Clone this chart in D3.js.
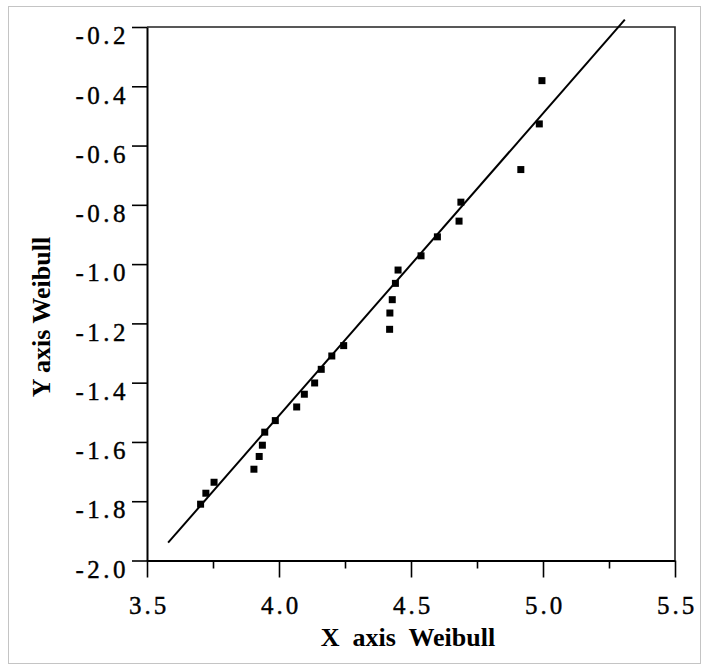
<!DOCTYPE html>
<html>
<head>
<meta charset="utf-8">
<script src="https://cdn.jsdelivr.net/npm/d3@7"></script>
<style>
  body { margin: 0; background: #fff; }
</style>
</head>
<body>
<svg></svg>
<script>
const xValues = [3.703, 3.723, 3.754, 3.905, 3.925, 3.937, 3.946, 3.986, 4.067, 4.096, 4.135,
                 4.16, 4.20, 4.245, 4.419, 4.420, 4.429, 4.441, 4.451, 4.538, 4.600,
                 4.682, 4.689, 4.916, 4.986, 4.996]
const yValues = [-1.810, -1.773, -1.736, -1.692, -1.649, -1.611, -1.567, -1.528, -1.482, -1.439, -1.401,
                 -1.355, -1.31, -1.275, -1.220, -1.165, -1.120, -1.065, -1.020, -0.972, -0.908,
                 -0.855, -0.791, -0.681, -0.527, -0.381]

// fitted line end points
const fitX = [3.58, 5.31]
const fitY = [-1.94, -0.175]

const xTicks = [3.5, 4.0, 4.5, 5.0, 5.5]
const xMinorTicks = [3.75, 4.25, 4.75, 5.25]
const yTicks = [-0.2, -0.4, -0.6, -0.8, -1.0, -1.2, -1.4, -1.6, -1.8, -2.0]

const width = 702, height = 666
const plot = {left: 147, right: 675, top: 27, bottom: 560.5}
const serif = '"Liberation Serif", "Times New Roman", Times, serif'

const svg = d3.select("svg")
    .attr("width", width)
    .attr("height", height)

const x = d3.scaleLinear().domain([3.5, 5.5]).range([plot.left, plot.right])
const y = d3.scaleLinear().domain([-2.0, -0.2]).range([plot.bottom, plot.top])
const fmt = d => d.toFixed(1)   // plain hyphen like the original

// dotted outer border
svg.append("rect")
    .attr("x", 8.5).attr("y", 6.5)
    .attr("width", 692).attr("height", 657)
    .attr("fill", "none")
    .attr("stroke", "#888")
    .attr("stroke-width", 1)
    .attr("stroke-dasharray", "1,1")

// frame top and right
svg.append("path")
    .attr("d", `M${plot.left},${plot.top}H${plot.right}V${plot.bottom}`)
    .attr("fill", "none")
    .attr("stroke", "#222")
    .attr("stroke-width", 1.6)

// y axis
const yAxis = svg.append("g")
    .attr("transform", `translate(${plot.left},0)`)
    .attr("font-family", serif)
    .call(d3.axisLeft(y).tickValues(yTicks).tickSize(15).tickSizeOuter(0).tickFormat(fmt))
yAxis.select(".domain").attr("stroke-width", 2)
yAxis.selectAll(".tick line").attr("stroke-width", 1.6)
yAxis.selectAll(".tick text")
    .attr("x", -18)
    .attr("y", 8)
    .attr("dy", "0.35em")
    .style("font-family", serif)
    .style("font-size", "25px")
    .style("letter-spacing", "3.5px")
    .attr("stroke", "#000")
    .attr("stroke-width", 0.4)

// x axis, major then minor ticks
const xAxis = svg.append("g")
    .attr("transform", `translate(0,${plot.bottom})`)
    .attr("font-family", serif)
    .call(d3.axisBottom(x).tickValues(xTicks).tickSize(17).tickSizeOuter(0).tickFormat(fmt))
xAxis.select(".domain").attr("stroke-width", 2)
xAxis.selectAll(".tick line").attr("stroke-width", 1.6)
xAxis.selectAll(".tick text")
    .attr("y", 53)
    .attr("dy", 0)
    .attr("dx", "1.5px")
    .style("font-family", serif)
    .style("font-size", "25px")
    .style("letter-spacing", "3px")
    .attr("stroke", "#000")
    .attr("stroke-width", 0.4)

svg.append("g")
    .attr("transform", `translate(0,${plot.bottom})`)
    .call(d3.axisBottom(x).tickValues(xMinorTicks).tickSize(8).tickFormat(""))
    .call(g => g.select(".domain").remove())
    .selectAll(".tick line").attr("stroke-width", 1.6)

// axis titles
svg.append("text")
    .attr("x", 408)
    .attr("y", 646)
    .attr("text-anchor", "middle")
    .style("font-family", serif)
    .style("font-size", "26px")
    .style("font-weight", "bold")
    .style("white-space", "pre")
    .text("X  axis  Weibull")

svg.append("text")
    .attr("transform", "translate(50,317) rotate(-90)")
    .attr("text-anchor", "middle")
    .style("font-family", serif)
    .style("font-size", "26px")
    .style("font-weight", "bold")
    .text("Y axis Weibull")

// fitted line
svg.append("line")
    .attr("x1", x(fitX[0])).attr("y1", y(fitY[0]))
    .attr("x2", x(fitX[1])).attr("y2", y(fitY[1]))
    .attr("stroke", "#000")
    .attr("stroke-width", 2)

// points
const pts = xValues.map((v, i) => ({x: v, y: yValues[i]}))
svg.selectAll("rect.pt")
  .data(pts)
  .enter().append("rect")
    .attr("class", "pt")
    .attr("x", d => x(d.x) - 3.5)
    .attr("y", d => y(d.y) - 3.5)
    .attr("width", 7)
    .attr("height", 7)
    .attr("fill", "#000")
</script>
</body>
</html>
